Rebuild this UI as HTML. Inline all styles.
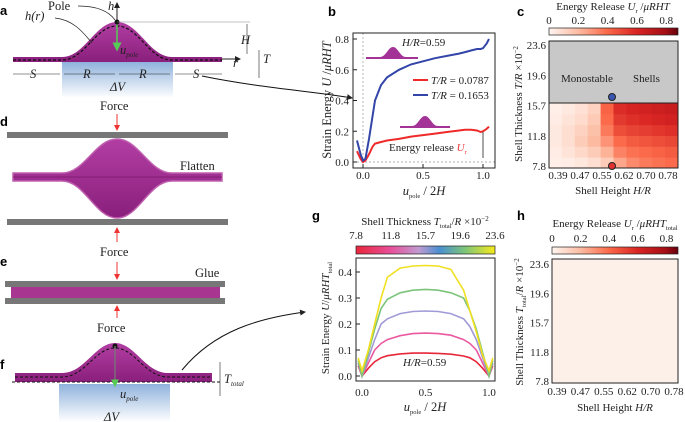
<!DOCTYPE html>
<html><head><meta charset="utf-8">
<style>
html,body{margin:0;padding:0;background:#fff;}
svg{display:block;font-family:"Liberation Serif",serif;}
.pl{font-family:"Liberation Sans",sans-serif;font-weight:bold;font-size:13px;}
.t{font-size:11px;fill:#222;}
.s{font-size:12.5px;fill:#222;}
</style></head>
<body>
<svg id="fig" width="685" height="422" viewBox="0 0 685 422" xmlns="http://www.w3.org/2000/svg">
<defs>
<linearGradient id="mag" x1="0" y1="0" x2="0" y2="1"><stop offset="0" stop-color="#b23ea3"/><stop offset="1" stop-color="#8a1f7c"/></linearGradient>
<linearGradient id="blue" x1="0" y1="0" x2="0" y2="1"><stop offset="0" stop-color="#8fb2dc"/><stop offset="1" stop-color="#ffffff"/></linearGradient>
<linearGradient id="reds" x1="0" x2="1"><stop offset="0" stop-color="#fff5f0"/><stop offset="0.23" stop-color="#fcbba1"/><stop offset="0.45" stop-color="#fb6a4a"/><stop offset="0.68" stop-color="#d92523"/><stop offset="0.9" stop-color="#a50f15"/><stop offset="1" stop-color="#67000d"/></linearGradient>
<linearGradient id="spec" x1="0" x2="1"><stop offset="0" stop-color="#e8263a"/><stop offset="0.25" stop-color="#e8509a"/><stop offset="0.45" stop-color="#c09ad0"/><stop offset="0.6" stop-color="#4a8fd0"/><stop offset="0.78" stop-color="#7cc47a"/><stop offset="1" stop-color="#f5ea1c"/></linearGradient>
<marker id="ar" markerWidth="6" markerHeight="6" refX="5" refY="3" orient="auto"><path d="M0,0L6,3L0,6z" fill="#222"/></marker>
<marker id="arr" markerWidth="6" markerHeight="6" refX="5" refY="3" orient="auto"><path d="M0,0L6,3L0,6z" fill="#e33"/></marker>
<marker id="arg" markerWidth="6" markerHeight="6" refX="5" refY="3" orient="auto"><path d="M0,0L6,3L0,6z" fill="#5c5"/></marker>
</defs>

<g>
<text class="pl" x="0" y="15">a</text>
<rect x="62" y="62" width="111" height="36" fill="url(#blue)"/>
<path d="M13,57 L62,57 C85,57 95,22 117,22 C139,22 149,57 172,57 L222,57 L222,62 L13,62Z" fill="url(#mag)"/>
<path d="M13,60 L62,60 C85,60 95,26 117,26 C139,26 149,60 172,60 L222,60" fill="none" stroke="#111" stroke-dasharray="3,2" stroke-width="1.2"/>
<line x1="117" y1="22" x2="117" y2="3" stroke="#222" marker-end="url(#ar)"/>
<line x1="117" y1="22" x2="117" y2="50" stroke="#5c5" stroke-width="1.5" marker-end="url(#arg)"/>
<circle cx="117" cy="22" r="2.5" fill="#111"/>
<line x1="117" y1="22" x2="250" y2="22" stroke="#888" stroke-width="0.6"/>
<line x1="247" y1="24" x2="247" y2="54" stroke="#222" stroke-width="0.6"/>
<line x1="259" y1="50" x2="259" y2="78" stroke="#222" stroke-width="0.6"/>
<line x1="222" y1="59" x2="240" y2="59" stroke="#222" marker-end="url(#ar)"/>
<text class="s" x="48" y="10">Pole</text><text class="s" x="108" y="10" font-style="italic">h</text>
<text class="s" x="25" y="20" font-style="italic">h(r)</text>
<path d="M55,18 C75,20 85,35 92,43" fill="none" stroke="#222" stroke-width="0.7"/>
<path d="M78,6 C95,6 108,10 115,20" fill="none" stroke="#222" stroke-width="0.7"/>
<text class="s" x="120" y="54" font-style="italic">u<tspan font-size="7" dy="3">pole</tspan></text>
<text class="s" x="241" y="44" font-style="italic">H</text>
<text class="s" x="263" y="63" font-style="italic">T</text>
<text class="s" x="233" y="67" font-style="italic">r</text>
<text class="s" x="30" y="78" font-style="italic">S</text><text class="s" x="83" y="78" font-style="italic">R</text><text class="s" x="139" y="78" font-style="italic">R</text><text class="s" x="193" y="78" font-style="italic">S</text>
<line x1="13" y1="74" x2="60" y2="74" stroke="#222" stroke-width="0.6"/><line x1="64" y1="74" x2="115" y2="74" stroke="#222" stroke-width="0.6"/><line x1="119" y1="74" x2="170" y2="74" stroke="#222" stroke-width="0.6"/><line x1="175" y1="74" x2="222" y2="74" stroke="#222" stroke-width="0.6"/>
<text class="s" x="110" y="91" font-style="italic">ΔV</text>
<path d="M202,76 C260,88 320,92 352,98" fill="none" stroke="#111" stroke-width="1" marker-end="url(#ar)"/>
</g>

<g>
<text class="pl" x="0" y="126">d</text>
<text class="s" x="100" y="110">Force</text>
<line x1="117" y1="114" x2="117" y2="130" stroke="#e33" marker-end="url(#arr)"/>
<rect x="7" y="132" width="221" height="6" fill="#777"/>
<path d="M13,173 L62,173 C85,173 95,139 117,139 C139,139 149,173 172,173 L222,173 L222,181 L172,181 C149,181 139,218 117,218 C95,218 85,181 62,181 L13,181Z" fill="url(#mag)" stroke="#c060b0" stroke-width="1.5"/>
<line x1="13" y1="177" x2="222" y2="177" stroke="#7a1a6c" stroke-width="0.8"/>
<text class="s" x="180" y="170">Flatten</text>
<rect x="7" y="219" width="221" height="6" fill="#777"/>
<text class="s" x="100" y="256">Force</text>
<line x1="117" y1="242" x2="117" y2="228" stroke="#e33" marker-end="url(#arr)"/>
</g>

<g>
<text class="pl" x="0" y="266">e</text>
<text class="s" x="195" y="277">Glue</text>
<line x1="117" y1="262" x2="117" y2="279" stroke="#e33" marker-end="url(#arr)"/>
<rect x="5" y="281" width="220" height="6" fill="#777"/>
<rect x="11" y="287" width="209" height="11" fill="#a8358f"/>
<rect x="5" y="298" width="220" height="6" fill="#777"/>
<line x1="117" y1="318" x2="117" y2="306" stroke="#e33" marker-end="url(#arr)"/>
<text class="s" x="97" y="332">Force</text>
</g>

<g>
<text class="pl" x="0" y="369">f</text>
<rect x="59" y="384" width="111" height="38" fill="url(#blue)"/>
<path d="M15,373 L62,373 C85,373 95,343 115,343 C135,343 145,373 168,373 L212,373 L212,382 L15,382Z" fill="url(#mag)"/>
<path d="M15,377 L62,377 C85,377 95,348 115,348 C135,348 145,377 168,377 L212,377" fill="none" stroke="#111" stroke-dasharray="3,2" stroke-width="1"/>
<line x1="12" y1="382" x2="222" y2="382" stroke="#111" stroke-dasharray="3,2" stroke-width="1"/>
<circle cx="115" cy="346" r="2.5" fill="#111"/>
<line x1="115" y1="346" x2="115" y2="386" stroke="#777" stroke-width="1.3" marker-end="url(#arg)"/>
<line x1="220" y1="362" x2="220" y2="396" stroke="#222" stroke-width="0.6"/>
<text class="s" x="120" y="398" font-style="italic">u<tspan font-size="7" dy="3">pole</tspan></text>
<text class="s" x="104" y="421" font-style="italic">ΔV</text>
<text class="s" x="224" y="383" font-style="italic">T<tspan font-size="7" dy="3">total</tspan></text>
<path d="M182,370 C215,330 260,318 305,312" fill="none" stroke="#111" stroke-width="1" marker-end="url(#ar)"/>
</g>

<g id="charts"></g>
</svg>
<script>
// ---------- DATA ----------
var bX = [-0.05,-0.02,0.0,0.02,0.05,0.08,0.1,0.15,0.2,0.3,0.4,0.5,0.6,0.7,0.8,0.85,0.9,0.95,0.98,1.0,1.03,1.05];
var bRed = [0.07,0.02,0.0,0.01,0.05,0.1,0.12,0.13,0.14,0.15,0.165,0.175,0.185,0.195,0.205,0.21,0.21,0.205,0.195,0.2,0.215,0.23];
var bBlue = [0.14,0.05,0.01,0.02,0.15,0.3,0.4,0.5,0.55,0.6,0.635,0.655,0.675,0.69,0.705,0.715,0.725,0.735,0.735,0.74,0.77,0.8];
var bYTicks = [0.0,0.2,0.4,0.6,0.8];
var bXTicks = [0.0,0.5,1.0];
var heatH = ["0.39","0.47","0.55","0.62","0.70","0.78"];
var heatT = ["7.8","11.8","15.7","19.6","23.6"];
var cbTicks = [0,0.2,0.4,0.6,0.8];
var cGrid = [
 [0.02,0.03,0.05,0.08,0.14,0.25,0.32,0.36,0.38,0.40],
 [0.03,0.06,0.10,0.14,0.22,0.34,0.38,0.40,0.42,0.44],
 [0.04,0.08,0.14,0.20,0.30,0.40,0.44,0.46,0.48,0.50],
 [0.04,0.08,0.12,0.18,0.36,0.48,0.51,0.53,0.55,0.57],
 [0.03,0.06,0.09,0.15,0.40,0.54,0.57,0.59,0.61,0.63],
 [0.02,0.04,0.07,0.12,0.42,0.58,0.61,0.63,0.65,0.67]
];
var gX = [-0.03,0.0,0.05,0.1,0.15,0.2,0.3,0.4,0.5,0.6,0.7,0.8,0.85,0.9,0.95,1.0,1.03];
var gRed = [0.04,0,0.03,0.055,0.07,0.078,0.085,0.088,0.088,0.087,0.084,0.077,0.07,0.055,0.03,0,0.04];
var gPink = [0.05,0,0.05,0.1,0.125,0.14,0.155,0.163,0.165,0.163,0.157,0.14,0.125,0.1,0.05,0,0.05];
var gPurple = [0.05,0,0.07,0.14,0.2,0.22,0.24,0.248,0.25,0.248,0.24,0.22,0.19,0.14,0.07,0,0.05];
var gGreen = [0.06,0,0.09,0.18,0.26,0.295,0.32,0.33,0.333,0.33,0.32,0.3,0.25,0.18,0.09,0,0.06];
var gYellow = [0.07,0.02,0.1,0.2,0.3,0.38,0.415,0.423,0.425,0.423,0.41,0.33,0.25,0.17,0.08,0.02,0.07];
var gYTicks = [0.0,0.1,0.2,0.3,0.4];
var gCbTicks = ["7.8","11.8","15.7","19.6","23.6"];

var NS="http://www.w3.org/2000/svg";
var root=document.getElementById('charts');
function mk(tag,attrs,parent,txt){var e=document.createElementNS(NS,tag);for(var k in attrs)e.setAttribute(k,attrs[k]);if(txt!==undefined)e.textContent=txt;(parent||root).appendChild(e);return e;}
function lin(d0,d1,r0,r1){return function(v){return r0+(v-d0)/(d1-d0)*(r1-r0);};}
function pathFrom(xs,ys,sx,sy){var d='';for(var i=0;i<xs.length;i++)d+=(i?'L':'M')+sx(xs[i]).toFixed(1)+','+sy(ys[i]).toFixed(1);return d;}
var stops=[[0,[255,245,240]],[0.2,[252,187,161]],[0.4,[251,106,74]],[0.6,[217,37,35]],[0.8,[165,15,21]],[0.88,[103,0,13]]];
function reds(v){for(var i=1;i<stops.length;i++){if(v<=stops[i][0]){var a=stops[i-1],b=stops[i],t=(v-a[0])/(b[0]-a[0]);var c=a[1].map(function(x,j){return Math.round(x+(b[1][j]-x)*t);});return 'rgb('+c.join(',')+')';}}return 'rgb(103,0,13)';}
// rich text: parts = [[text, 'n'|'i'|'sub'|'sup']]
function rich(parent,attrs,parts){var t=mk('text',attrs,parent);var shift=0;parts.forEach(function(p){var a={};if(p[1]==='i')a['font-style']='italic';if(p[1]==='sub'){a['font-size']='6.5';a.dy=String(3-shift);shift=3;}else if(p[1]==='sup'){a['font-size']='7';a.dy=String(-4-shift);shift=-4;}else{a.dy=String(-shift);shift=0;}mk('tspan',a,t,p[0]);});return t;}

// ---------- Panel b ----------
var gb=mk('g',{});


var bsx=lin(0,1,363,483), bsy=lin(0,0.8,162,39);
var lb=mk('text',{x:328,y:16,'class':'pl'},gb,'b');


mk('line',{x1:bsx(0),y1:33,x2:bsx(0),y2:168,stroke:'#999','stroke-dasharray':'2,2','stroke-width':0.7},gb);
mk('line',{x1:353,y1:bsy(0),x2:495,y2:bsy(0),stroke:'#999','stroke-dasharray':'2,2','stroke-width':0.7},gb);
bYTicks.forEach(function(v){var t=mk('text',{x:349,y:bsy(v)+4,'class':'t','text-anchor':'end'},gb,v.toFixed(1));


mk('line',{x1:353,y1:bsy(v),x2:357,y2:bsy(v),stroke:'#222'},gb);});
bXTicks.forEach(function(v){var t=mk('text',{x:bsx(v),y:179,'class':'t','text-anchor':'middle'},gb,v.toFixed(1));


mk('line',{x1:bsx(v),y1:168,x2:bsx(v),y2:164,stroke:'#222'},gb);});
var pr=mk('path',{d:pathFrom(bX,bRed,bsx,bsy),fill:'none',stroke:'#ee2a2a','stroke-width':2},gb);


var pbl=mk('path',{d:pathFrom(bX,bBlue,bsx,bsy),fill:'none',stroke:'#3345a8','stroke-width':2},gb);


mk('rect',{x:353,y:33,width:142,height:135,fill:'none',stroke:'#222','stroke-width':1},gb);
var yl=rich(gb,{x:0,y:0,'class':'s','text-anchor':'middle',transform:'translate(331,100) rotate(-90)'},[['Strain Energy ','n'],['U','i'],[' /','n'],['μRHT','i']]);


var xl=rich(gb,{x:424,y:195,'class':'s','text-anchor':'middle'},[['u','i'],['pole','sub'],[' / 2','n'],['H','i']]);


rich(gb,{x:402,y:46,'class':'t'},[['H/R','i'],['=0.59','n']]);
mk('path',{d:'M366,57 L380,57 C386,57 388,47 393,47 C398,47 400,57 406,57 L418,57 L418,59 L366,59Z',fill:'#a33396'},gb);
mk('path',{d:'M400,126 L412,126 C418,126 420,116 425,116 C430,116 432,126 438,126 L450,126 L450,128 L400,128Z',fill:'#a33396'},gb);
var lg=mk('g',{},gb);


mk('line',{x1:413,y1:80,x2:428,y2:80,stroke:'#ee2a2a','stroke-width':2},lg);
rich(lg,{x:431,y:84,'class':'t'},[['T/R','i'],[' = 0.0787','n']]);
mk('line',{x1:413,y1:95,x2:428,y2:95,stroke:'#3345a8','stroke-width':2},lg);
rich(lg,{x:431,y:99,'class':'t'},[['T/R','i'],[' = 0.1653','n']]);
var er=rich(gb,{x:389,y:151,'class':'t'},[['Energy release ','n']]);
var ut=mk('tspan',{fill:'#e33','font-style':'italic'},er,'U');
mk('tspan',{fill:'#e33','font-size':'6.5',dy:'3'},er,'r');
mk('line',{x1:483,y1:132,x2:483,y2:158,stroke:'#222','stroke-width':0.8},gb);

// ---------- Panel c ----------
var gc=mk('g',{});


var lc=mk('text',{x:517,y:16,'class':'pl'},gc,'c');


var cbs=lin(0,0.88,549,678);
rich(gc,{x:613,y:10,'class':'t','text-anchor':'middle'},[['Energy Release ','n'],['U','i'],['r','sub'],[' /','n'],['μRHT','i']]);
var cb=mk('rect',{x:549,y:28,width:129,height:7,fill:'url(#reds)',stroke:'#222','stroke-width':0.7},gc);


cbTicks.forEach(function(v){mk('text',{x:cbs(v),y:24,'class':'t','text-anchor':'middle'},gc,String(v));});
var cx0=549,cx1=678,cyTop=41,cySplit=103,cyBot=168;
var nC=cGrid[0].length,nR=cGrid.length,cw=(cx1-cx0)/nC,ch=(cyBot-cySplit)/nR;
cGrid.forEach(function(row,ri){row.forEach(function(v,ci){var r=mk('rect',{x:cx0+ci*cw,y:cyBot-(ri+1)*ch,width:cw+0.5,height:ch+0.5,fill:reds(v)},gc);

});});
mk('rect',{x:cx0,y:cyTop,width:cx1-cx0,height:cySplit-cyTop,fill:'#c8c8c8'},gc);
mk('line',{x1:cx0,y1:cySplit,x2:cx1,y2:cySplit,stroke:'#222'},gc);
mk('text',{x:561,y:82,'class':'t'},gc,'Monostable');
mk('text',{x:633,y:82,'class':'t'},gc,'Shells');
mk('rect',{x:cx0,y:cyTop,width:cx1-cx0,height:cyBot-cyTop,fill:'none',stroke:'#222'},gc);
var chx=lin(0,heatH.length-1,558,668), chy=lin(0,heatT.length-1,166,45);
heatH.forEach(function(s,i){mk('text',{x:chx(i),y:179,'class':'t','text-anchor':'middle'},gc,s);});
heatT.forEach(function(s,i){mk('text',{x:546,y:chy(i)+4,'class':'t','text-anchor':'end'},gc,s);});
var db=mk('circle',{cx:612,cy:97,r:3.5,fill:'#3a55b0',stroke:'#222'},gc);


var dr=mk('circle',{cx:612,cy:166,r:3.5,fill:'#e03030',stroke:'#222'},gc);


rich(gc,{x:0,y:0,'class':'t','text-anchor':'middle',transform:'translate(522,104) rotate(-90)'},[['Shell Thickness ','n'],['T/R','i'],[' ×10','n'],['−2','sup']]);
rich(gc,{x:613,y:194,'class':'t','text-anchor':'middle'},[['Shell Height ','n'],['H/R','i']]);

// ---------- Panel g ----------
var gg=mk('g',{});


var lgl=mk('text',{x:312,y:220,'class':'pl'},gg,'g');


var gsx=lin(0,1,362,489), gsy=lin(0,0.4,376,272);
rich(gg,{x:425,y:225,'class':'t','text-anchor':'middle'},[['Shell Thickness ','n'],['T','i'],['total','sub'],['/','n'],['R','i'],[' ×10','n'],['−2','sup']]);
var gcb=mk('rect',{x:356,y:246,width:139,height:8,fill:'url(#spec)',stroke:'#222','stroke-width':0.7},gg);


gCbTicks.forEach(function(s,i){mk('text',{x:356+i*139/4,y:239,'class':'t','text-anchor':'middle'},gg,s);});
gYTicks.forEach(function(v){mk('text',{x:352,y:gsy(v)+4,'class':'t','text-anchor':'end'},gg,v.toFixed(1));
mk('line',{x1:356,y1:gsy(v),x2:360,y2:gsy(v),stroke:'#222'},gg);});
bXTicks.forEach(function(v){mk('text',{x:gsx(v),y:396,'class':'t','text-anchor':'middle'},gg,v.toFixed(1));});
var gSeries=[[gRed,'#e8263a','g-series-7-8'],[gPink,'#ea5aa0','g-series-11-8'],[gPurple,'#a09ad6','g-series-15-7'],[gGreen,'#7cc47a','g-series-19-6'],[gYellow,'#f0e020','g-series-23-6']];
gSeries.forEach(function(s){var p=mk('path',{d:pathFrom(gX,s[0],gsx,gsy),fill:'none',stroke:s[1],'stroke-width':1.6},gg);

});
mk('rect',{x:356,y:258,width:139,height:123,fill:'none',stroke:'#222'},gg);
rich(gg,{x:403,y:366,'class':'t'},[['H/R','i'],['=0.59','n']]);
rich(gg,{x:0,y:0,'class':'t','text-anchor':'middle',transform:'translate(329,318) rotate(-90)'},[['Strain Energy ','n'],['U','i'],['/','n'],['μRHT','i'],['total','sub']]);
rich(gg,{x:425,y:411,'class':'s','text-anchor':'middle'},[['u','i'],['pole','sub'],[' / 2','n'],['H','i']]);

// ---------- Panel h ----------
var gh=mk('g',{});


var lh=mk('text',{x:517,y:220,'class':'pl'},gh,'h');


rich(gh,{x:615,y:227,'class':'t','text-anchor':'middle'},[['Energy Release ','n'],['U','i'],['r','sub'],[' /','n'],['μRHT','i'],['total','sub']]);
var hcs=lin(0,0.88,552,678);
mk('rect',{x:552,y:247,width:126,height:7,fill:'url(#reds)',stroke:'#222','stroke-width':0.7},gh);
cbTicks.forEach(function(v){mk('text',{x:hcs(v),y:242,'class':'t','text-anchor':'middle'},gh,String(v));});
var hm=mk('rect',{x:552,y:259,width:126,height:124,fill:'#fdf0e8',stroke:'#222'},gh);


var hhx=lin(0,heatH.length-1,557,674), hhy=lin(0,heatT.length-1,381,264);
heatH.forEach(function(s,i){mk('text',{x:hhx(i),y:395,'class':'t','text-anchor':'middle'},gh,s);});
heatT.forEach(function(s,i){mk('text',{x:549,y:hhy(i)+4,'class':'t','text-anchor':'end'},gh,s);});
rich(gh,{x:0,y:0,'class':'t','text-anchor':'middle',transform:'translate(523,322) rotate(-90)'},[['Shell Thickness ','n'],['T','i'],['total','sub'],['/','n'],['R','i'],[' ×10','n'],['−2','sup']]);
rich(gh,{x:615,y:411,'class':'t','text-anchor':'middle'},[['Shell Height ','n'],['H/R','i']]);
</script>
</body></html>
